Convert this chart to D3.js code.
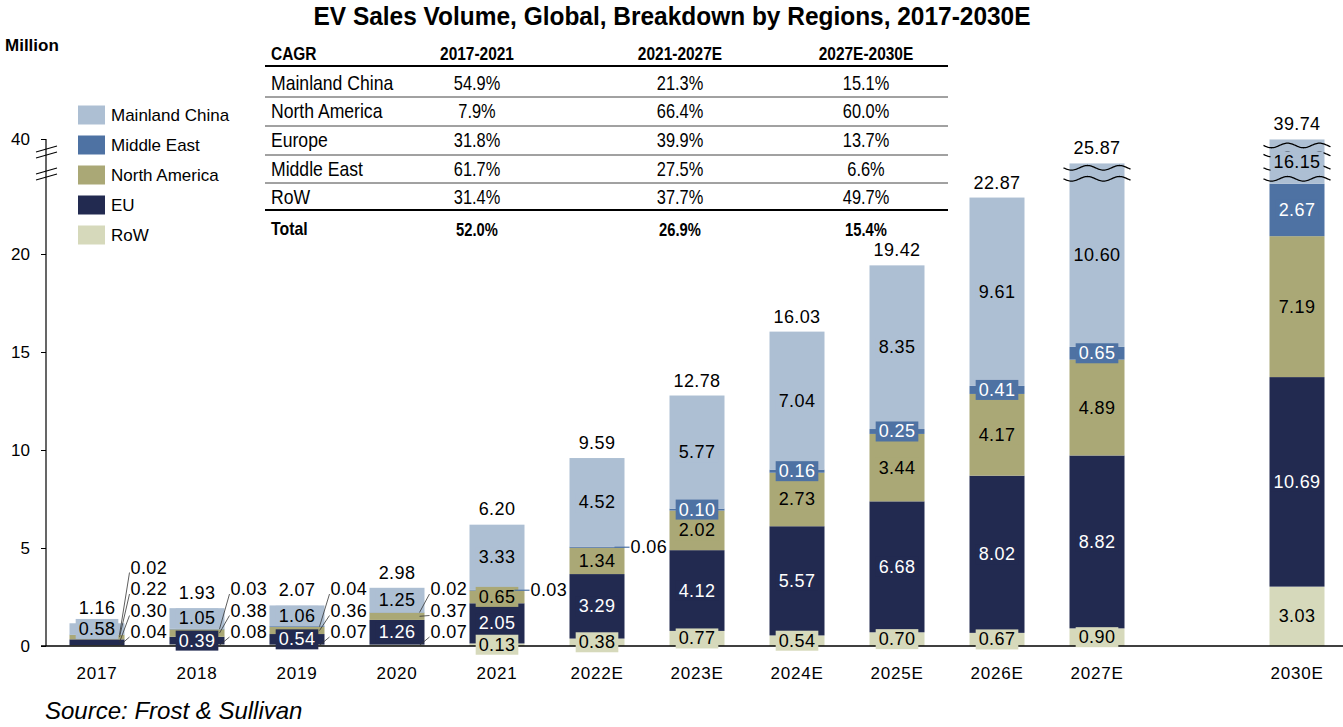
<!DOCTYPE html>
<html>
<head>
<meta charset="utf-8">
<script src="https://cdn.jsdelivr.net/npm/d3@7"></script>
<style>
  html, body { margin: 0; padding: 0; background: #fff; }
  svg { display: block; font-family: "Liberation Sans", Arial, sans-serif; }
</style>
</head>
<body>
<svg id="chart" width="1343" height="727"></svg>
<script>
// ---------------- DATA ----------------
const categories = ["2017","2018","2019","2020","2021","2022E","2023E","2024E","2025E","2026E","2027E","2030E"];
const chinaValues        = [0.58, 1.05, 1.06, 1.25, 3.33, 4.52, 5.77, 7.04, 8.35, 9.61, 10.60, 16.15];
const middleEastValues   = [0.02, 0.03, 0.04, 0.02, 0.03, 0.06, 0.10, 0.16, 0.25, 0.41, 0.65, 2.67];
const northAmericaValues = [0.22, 0.38, 0.36, 0.37, 0.65, 1.34, 2.02, 2.73, 3.44, 4.17, 4.89, 7.19];
const euValues           = [0.30, 0.39, 0.54, 1.26, 2.05, 3.29, 4.12, 5.57, 6.68, 8.02, 8.82, 10.69];
const rowValues          = [0.04, 0.08, 0.07, 0.07, 0.13, 0.38, 0.77, 0.54, 0.70, 0.67, 0.90, 3.03];
const totalValues        = [1.16, 1.93, 2.07, 2.98, 6.20, 9.59, 12.78, 16.03, 19.42, 22.87, 25.87, 39.74];

const seriesKeys   = ["row", "eu", "na", "me", "china"];           // stacking order, bottom-up
const seriesNames  = {china: "Mainland China", me: "Middle East", na: "North America", eu: "EU", row: "RoW"};
const legendOrder  = ["china", "me", "na", "eu", "row"];
const yTickValues  = [0, 5, 10, 15, 20, 40];

// labels placed outside the bar (too thin to hold text)
const outsideLabels = [
  ["2017","row"],["2017","eu"],["2017","na"],["2017","me"],
  ["2018","row"],["2018","na"],["2018","me"],
  ["2019","row"],["2019","na"],["2019","me"],
  ["2020","row"],["2020","na"],["2020","me"],
  ["2021","me"],["2022E","me"]
];

// CAGR table
const cagrHeaders = ["CAGR", "2017-2021", "2021-2027E", "2027E-2030E"];
const cagrRegions = ["Mainland China", "North America", "Europe", "Middle East", "RoW", "Total"];
const cagr1721 = ["54.9%", "7.9%", "31.8%", "61.7%", "31.4%", "52.0%"];
const cagr2127 = ["21.3%", "66.4%", "39.9%", "27.5%", "37.7%", "26.9%"];
const cagr2730 = ["15.1%", "60.0%", "13.7%", "6.6%", "49.7%", "15.4%"];

// ---------------- STYLE ----------------
const colors = {china: "#adbfd3", me: "#4e72a3", na: "#aaa876", eu: "#222a50", row: "#d6d9bb"};
const lightText = {eu: true, me: true};

const svg = d3.select("#chart");
const W = 1343, H = 727;
const axisX = 46;
const GAP = "__gap__";

// ---------------- SCALES ----------------
const slots = [...categories.slice(0, 11), GAP, categories[11]];
const x = d3.scaleBand().domain(slots).range([47, 1347]).paddingInner(0.45).paddingOuter(0.225);

const base = d3.scaleLinear().domain([0, 20]).range([646, 254]);
const BREAK = 24.5, AXIS_TOP = 40;
const y = d3.scaleLinear().domain([0, BREAK, AXIS_TOP]).range([base(0), base(BREAK), 139]);

// ---------------- DATA TABLE ----------------
const rows = categories.map((c, i) => ({
  cat: c, china: chinaValues[i], me: middleEastValues[i], na: northAmericaValues[i],
  eu: euValues[i], row: rowValues[i], total: totalValues[i]
}));
const stacked = d3.stack().keys(seriesKeys)(rows);

// ---------------- TITLE ----------------
svg.append("text")
  .attr("x", 672).attr("y", 16)
  .attr("text-anchor", "middle").attr("dominant-baseline", "central")
  .style("font-family", "'Liberation Sans Narrow', 'Arial Narrow', 'Liberation Sans', Arial, sans-serif")
  .style("font-weight", "bold").style("font-size", "26px")
  .attr("textLength", 717).attr("lengthAdjust", "spacingAndGlyphs")
  .text("EV Sales Volume, Global, Breakdown by Regions, 2017-2030E");

svg.append("text")
  .attr("x", 5).attr("y", 45).attr("dominant-baseline", "central")
  .style("font-weight", "bold").style("font-size", "17px")
  .text("Million");

// ---------------- BARS ----------------
const barG = svg.append("g");
stacked.forEach(layer => {
  barG.append("g").selectAll("rect")
    .data(layer)
    .join("rect")
    .attr("x", d => x(d.data.cat))
    .attr("width", x.bandwidth())
    .attr("y", d => y(d[1]))
    .attr("height", d => Math.max(0, y(d[0]) - y(d[1])))
    .attr("fill", colors[layer.key]);
});

// break waves on tall bars
function wave(x0, x1, yc) {
  const pts = d3.range(x0, x1 + 0.5, 1).map(px => [px, yc + 2.3 * Math.sin(2 * Math.PI * (px - x0) / 32)]);
  return d3.line()(pts);
}
const waveG = svg.append("g");
rows.forEach(r => {
  if (r.total <= BREAK) return;
  const x0 = x(r.cat) - 6, x1 = x(r.cat) + x.bandwidth() + 6;
  const yb = y(BREAK);
  const ys = [yb + 2, yb + 13];
  if (r.total > 30) { const t = y(r.total); ys.push(t + 6, t + 15); }
  ys.forEach(yy => waveG.append("path").attr("d", wave(x0, x1, yy))
    .attr("fill", "none").attr("stroke", "#000").attr("stroke-width", 1.3));
});

// ---------------- AXES ----------------
const axG = svg.append("g");
axG.append("line").attr("x1", axisX).attr("x2", axisX).attr("y1", y(AXIS_TOP)).attr("y2", y(0))
  .attr("stroke", "#000").attr("stroke-width", 1.2);
const yAxis = d3.axisLeft(y).tickValues(yTickValues).tickSize(5).tickPadding(11).tickFormat(d3.format("d"));
const yAxG = axG.append("g").attr("transform", `translate(${axisX},0)`).call(yAxis);
yAxG.select(".domain").remove();
yAxG.selectAll("text").style("font-size", "17px").style("font-family", "'Liberation Sans', Arial, sans-serif").attr("fill", "#000");
yAxG.selectAll("line").attr("stroke", "#000");
// axis break marks
[y(AXIS_TOP) + 10, y(AXIS_TOP) + 16, y(AXIS_TOP) + 32, y(AXIS_TOP) + 38].forEach(yy => {
  axG.append("line").attr("x1", axisX - 10).attr("x2", axisX + 11)
    .attr("y1", yy + 3).attr("y2", yy - 3).attr("stroke", "#000").attr("stroke-width", 1.1);
});

// x axis
axG.append("line").attr("x1", axisX - 5).attr("x2", W).attr("y1", y(0)).attr("y2", y(0))
  .attr("stroke", "#000").attr("stroke-width", 1.4);
const xAxis = d3.axisBottom(x).tickValues(categories).tickSize(0).tickPadding(21);
const xAxG = axG.append("g").attr("transform", `translate(0,${y(0)})`).call(xAxis);
xAxG.select(".domain").remove();
xAxG.selectAll("text").style("font-size", "17px").style("letter-spacing", "0.8px")
  .style("font-family", "'Liberation Sans', Arial, sans-serif").attr("fill", "#000");

// ---------------- VALUE LABELS ----------------
const labG = svg.append("g").style("font-size", "18px").style("letter-spacing", "0.4px");
const isOutside = (cat, key) => outsideLabels.some(o => o[0] === cat && o[1] === key);

stacked.forEach(layer => {
  layer.forEach(d => {
    const cat = d.data.cat, key = layer.key;
    const val = d.data[key];
    const mid = (y(d[0]) + y(d[1])) / 2;
    const bx = x(cat), bw = x.bandwidth();
    const txt = val.toFixed(2);
    if (isOutside(cat, key)) {
      const outs = seriesKeys.filter(k => isOutside(cat, k));
      const k = outs.indexOf(key);
      const lx = bx + bw + 6;
      let ly;
      if (outs.length > 1) {
        ly = y(0) - 14 - 21.5 * k;
        labG.append("line").attr("x1", bx + bw - 5).attr("y1", mid)
          .attr("x2", lx - 1).attr("y2", ly + 5)
          .attr("stroke", "#333").attr("stroke-width", 0.8);
      } else {
        ly = mid;
        labG.append("line").attr("x1", bx + bw - 10).attr("y1", mid)
          .attr("x2", lx - 1).attr("y2", mid)
          .attr("stroke", colors[key]).attr("stroke-width", 1.2);
      }
      labG.append("text").attr("x", lx).attr("y", ly)
        .attr("dominant-baseline", "central").attr("fill", "#000").text(txt);
    } else {
      const g = labG.append("g");
      const t = g.append("text").attr("x", bx + bw / 2).attr("y", mid)
        .attr("text-anchor", "middle").attr("dominant-baseline", "central")
        .attr("fill", lightText[key] ? "#fff" : "#000").text(txt);
      const bb = t.node().getBBox();
      g.insert("rect", "text")
        .attr("x", bb.x - 3).attr("width", bb.width + 6)
        .attr("y", mid - 10).attr("height", 20)
        .attr("fill", colors[key]);
    }
  });
});

// totals
labG.append("g").selectAll("text").data(rows).join("text")
  .attr("x", d => x(d.cat) + x.bandwidth() / 2)
  .attr("y", d => y(d.total) - 15)
  .attr("text-anchor", "middle").attr("dominant-baseline", "central")
  .attr("fill", "#000")
  .text(d => d.total.toFixed(2));

// ---------------- LEGEND ----------------
const leg = svg.append("g");
legendOrder.forEach((k, i) => {
  const cy = 115 + 30 * i;
  leg.append("rect").attr("x", 78).attr("y", cy - 9.5).attr("width", 27).attr("height", 19).attr("fill", colors[k]);
  leg.append("text").attr("x", 111).attr("y", cy).attr("dominant-baseline", "central")
    .style("font-size", "17px").text(seriesNames[k]);
});

// ---------------- CAGR TABLE ----------------
const tbl = svg.append("g");
const colX = [271, 477, 680, 866];
const rowY = [83, 111, 140, 169, 197, 229];
function condText(g, tx, ty, str, anchor, size, weight, sx) {
  g.append("text")
    .attr("transform", `translate(${tx},${ty}) scale(${sx},1)`)
    .attr("text-anchor", anchor).attr("dominant-baseline", "central")
    .style("font-size", size + "px").style("font-weight", weight)
    .text(str);
}
cagrHeaders.forEach((h, i) => {
  condText(tbl, colX[i], 54, h, i === 0 ? "start" : "middle", 18, "bold", 0.86);
});
const cols = [cagrRegions, cagr1721, cagr2127, cagr2730];
cagrRegions.forEach((r, ri) => {
  const isTotal = ri === cagrRegions.length - 1;
  cols.forEach((col, ci) => {
    condText(tbl, colX[ci], rowY[ri], col[ri], ci === 0 ? "start" : "middle",
      isTotal ? 18 : 20, isTotal ? "bold" : "normal", ci === 0 ? 0.88 : 0.82);
  });
});
[[66, 2, "#000"], [97, 1, "#444"], [126, 1, "#444"], [155, 1, "#444"], [183, 1, "#444"], [210, 2, "#000"]].forEach(([yy, sw, c]) => {
  tbl.append("line").attr("x1", 265).attr("x2", 948).attr("y1", yy).attr("y2", yy)
    .attr("stroke", c).attr("stroke-width", sw);
});

// ---------------- SOURCE ----------------
svg.append("text").attr("x", 45).attr("y", 710).attr("dominant-baseline", "central")
  .style("font-style", "italic").style("font-size", "24px").text("Source: Frost & Sullivan");
</script>
</body>
</html>
